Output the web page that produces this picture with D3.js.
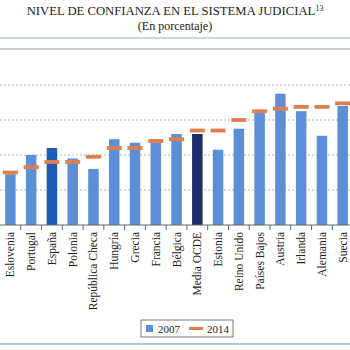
<!DOCTYPE html>
<html>
<head>
<meta charset="utf-8">
<script src="https://cdn.jsdelivr.net/npm/d3@7"></script>
<style>
  body { margin: 0; background: #fff; }
  svg { display: block; }
  text { font-family: "Liberation Serif", "DejaVu Serif", serif; fill: #222; }
</style>
</head>
<body>
<div id="chart"></div>
<script>
const countries = ["Eslovenia", "Portugal", "España", "Polonia", "República Checa", "Hungría",
  "Grecia", "Francia", "Bélgica", "Media OCDE", "Estonia", "Reino Unido", "Países Bajos",
  "Austria", "Irlanda", "Alemania", "Suecia"];
const values2007 = [29, 40, 44, 38, 32, 49, 47, 47, 52, 52, 43, 55, 64, 75, 65, 51, 68];
const values2014 = [30, 33, 36, 36, 39, 44, 44, 48, 49, 54, 54, 60, 65, 66.5, 67.5, 67.5, 69.5];
const gridTicks = [20, 40, 60, 80];
const legendLabels = ["2007", "2014"];

const W = 350, H = 350;
const baseY = 225;
const band = 20.77;

const svg = d3.select("#chart").append("svg")
  .attr("width", W)
  .attr("height", H);

// title
const title = svg.append("text")
  .attr("x", 175)
  .attr("y", 15)
  .attr("text-anchor", "middle")
  .style("font-size", "12.7px");
title.append("tspan").text("NIVEL DE CONFIANZA EN EL SISTEMA JUDICIAL");
title.append("tspan").attr("dy", -4).style("font-size", "8px").text("13");

svg.append("text")
  .attr("x", 175)
  .attr("y", 30)
  .attr("text-anchor", "middle")
  .style("font-size", "12px")
  .text("(En porcentaje)");

// frame lines
svg.append("line").attr("x1", 0).attr("x2", W).attr("y1", 38).attr("y2", 38)
  .attr("stroke", "#8fb3d3").attr("stroke-width", 1.2);
svg.append("line").attr("x1", 0).attr("x2", W).attr("y1", 49).attr("y2", 49)
  .attr("stroke", "#9a9a9a").attr("stroke-width", 1);
svg.append("line").attr("x1", 0).attr("x2", W).attr("y1", 344).attr("y2", 344)
  .attr("stroke", "#8fb3d3").attr("stroke-width", 1.5);

const xb = d3.scaleBand()
  .domain(countries)
  .range([0, band * countries.length])
  .padding(0);

const y = d3.scaleLinear()
  .domain([0, 100])
  .range([baseY, baseY - 175]);

// gridlines
svg.selectAll(".grid")
  .data(gridTicks)
  .join("line")
  .attr("x1", 0)
  .attr("x2", W)
  .attr("y1", d => y(d))
  .attr("y2", d => y(d))
  .attr("stroke", "#b5b5b5")
  .attr("stroke-dasharray", "2,2");

// bars 2007
const barW = 10.5;
svg.selectAll(".bar")
  .data(countries)
  .join("rect")
  .attr("x", d => xb(d) + xb.bandwidth() / 2 - barW / 2)
  .attr("y", (d, i) => y(values2007[i]))
  .attr("width", barW)
  .attr("height", (d, i) => y(0) - y(values2007[i]))
  .attr("fill", d => d === "España" ? "#1c5db4" : d === "Media OCDE" ? "#1f2d6a" : "#5b90d9");

// 2014 markers
svg.selectAll(".mark")
  .data(countries)
  .join("line")
  .attr("x1", d => xb(d) + xb.bandwidth() / 2 - 7.5)
  .attr("x2", d => xb(d) + xb.bandwidth() / 2 + 7.5)
  .attr("y1", (d, i) => y(values2014[i]))
  .attr("y2", (d, i) => y(values2014[i]))
  .attr("stroke", "#e07d4c")
  .attr("stroke-width", 3.8);

// x axis
const axis = svg.append("g")
  .attr("transform", `translate(0,${y(0)})`);
axis.append("line")
  .attr("x1", 0).attr("x2", W)
  .attr("stroke", "#666");
axis.selectAll(".tick")
  .data(countries.slice(1))
  .join("line")
  .attr("x1", d => xb(d))
  .attr("x2", d => xb(d))
  .attr("y1", 0)
  .attr("y2", 5)
  .attr("stroke", "#666");
axis.selectAll(".lbl")
  .data(countries)
  .join("text")
  .attr("transform", d => `translate(${xb(d) + xb.bandwidth() / 2 + 4},7) rotate(-90)`)
  .attr("text-anchor", "end")
  .style("font-size", "11.5px")
  .text(d => d);

// legend
const legend = svg.append("g").attr("transform", "translate(141,320)");
legend.append("rect")
  .attr("width", 92).attr("height", 17)
  .attr("fill", "#fff").attr("stroke", "#555").attr("stroke-width", 0.8);
legend.append("rect")
  .attr("x", 5).attr("y", 5).attr("width", 7).attr("height", 7)
  .attr("fill", "#5b90d9");
legend.append("text").attr("x", 17).attr("y", 12.5).style("font-size", "11px").text(legendLabels[0]);
legend.append("line")
  .attr("x1", 48).attr("x2", 62).attr("y1", 8.5).attr("y2", 8.5)
  .attr("stroke", "#e07d4c").attr("stroke-width", 3);
legend.append("text").attr("x", 66).attr("y", 12.5).style("font-size", "11px").text(legendLabels[1]);
</script>
</body>
</html>
